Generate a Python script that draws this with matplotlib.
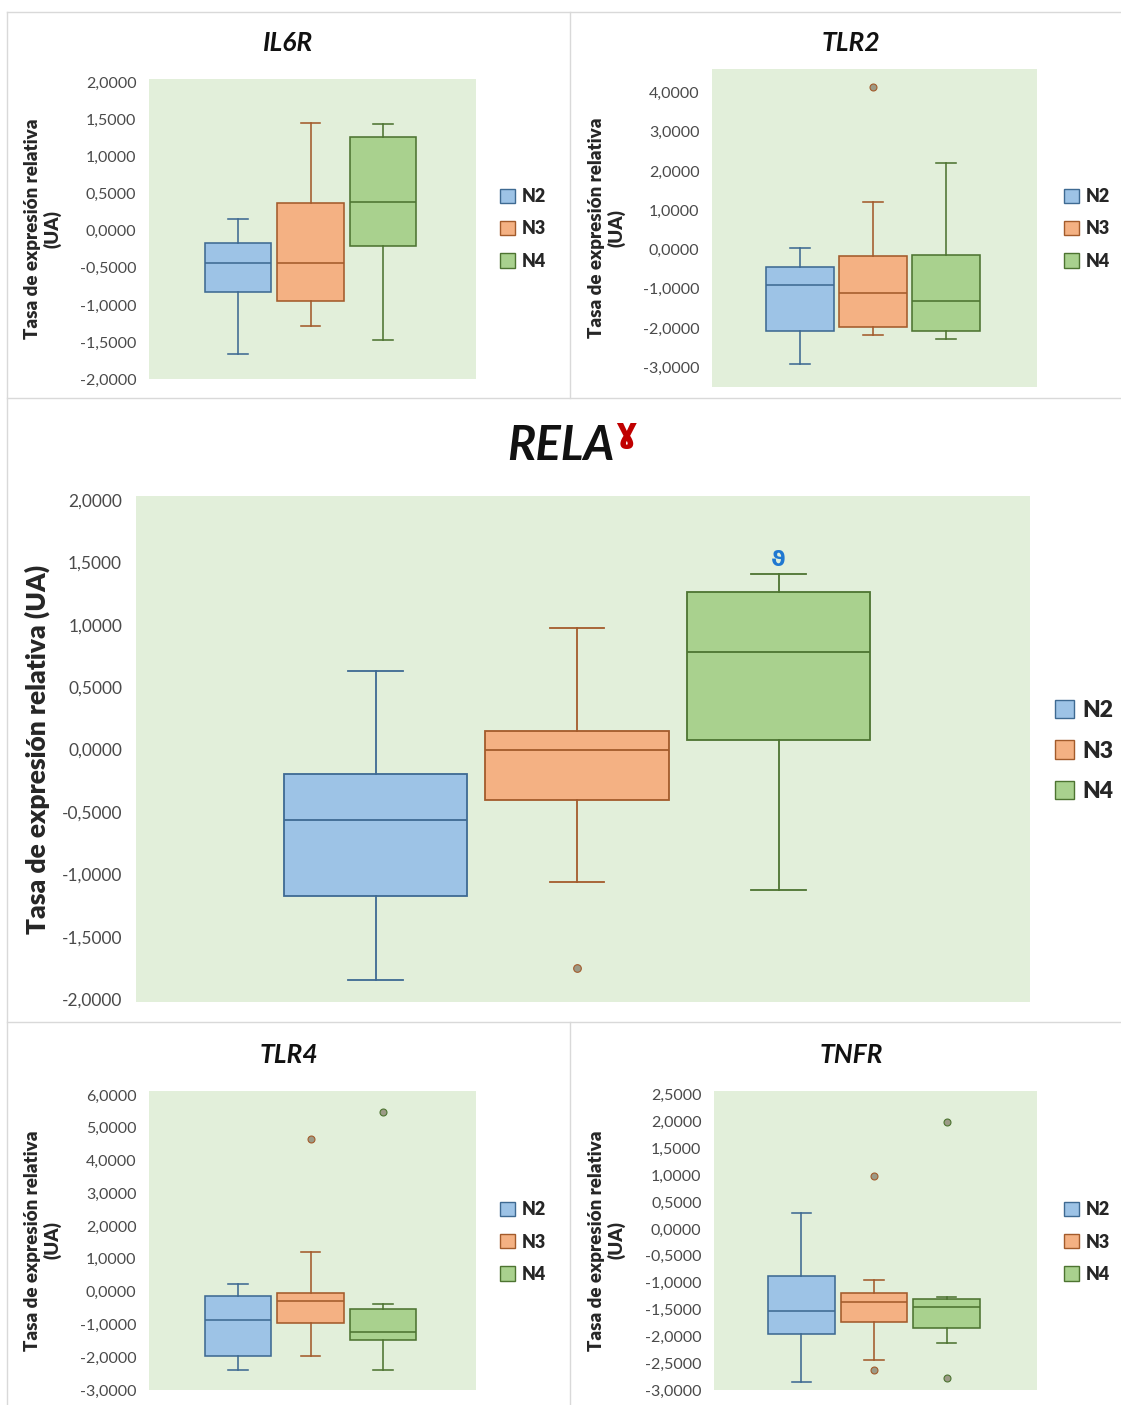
import matplotlib
matplotlib.use("Agg")
import matplotlib.pyplot as plt
from matplotlib.patches import Patch
from matplotlib.lines import Line2D
from matplotlib.ticker import FixedLocator, FuncFormatter
import numpy as np

plt.rcParams['font.family'] = ['Lato', 'DejaVu Sans']

# ---------------- data ----------------
groups = ["N2", "N3", "N4"]
genes = ["IL6R", "TLR2", "RELA", "TLR4", "TNFR"]

il6r_whislo = [-1.66, -1.28, -1.48]
il6r_q1     = [-0.83, -0.95, -0.21]
il6r_med    = [-0.44, -0.44, 0.385]
il6r_q3     = [-0.17, 0.38, 1.27]
il6r_whishi = [0.16, 1.46, 1.44]
il6r_fliers = [[], [], []]

tlr2_whislo = [-2.92, -2.17, -2.28]
tlr2_q1     = [-2.08, -1.96, -2.08]
tlr2_med    = [-0.90, -1.11, -1.30]
tlr2_q3     = [-0.44, -0.16, -0.13]
tlr2_whishi = [0.05, 1.20, 2.20]
tlr2_fliers = [[], [4.13], []]

rela_whislo = [-1.84, -1.056, -1.125]
rela_q1     = [-1.17, -0.403, 0.077]
rela_med    = [-0.562, -0.005, 0.782]
rela_q3     = [-0.198, 0.151, 1.262]
rela_whishi = [0.626, 0.974, 1.405]
rela_fliers = [[], [-1.75], []]

tlr4_whislo = [-2.39, -1.95, -2.39]
tlr4_q1     = [-1.95, -0.96, -1.47]
tlr4_med    = [-0.88, -0.28, -1.22]
tlr4_q3     = [-0.13, -0.03, -0.52]
tlr4_whishi = [0.23, 1.20, -0.37]
tlr4_fliers = [[], [4.65], [5.47]]

tnfr_whislo = [-2.85, -2.44, -2.13]
tnfr_q1     = [-1.95, -1.73, -1.85]
tnfr_med    = [-1.53, -1.36, -1.46]
tnfr_q3     = [-0.87, -1.20, -1.31]
tnfr_whishi = [0.29, -0.95, -1.27]
tnfr_fliers = [[], [0.98, -2.63], [2.00, -2.78]]

il6r_ticks = [-2.0, -1.5, -1.0, -0.5, 0.0, 0.5, 1.0, 1.5, 2.0]
tlr2_ticks = [-3, -2, -1, 0, 1, 2, 3, 4]
rela_ticks = [-2.0, -1.5, -1.0, -0.5, 0.0, 0.5, 1.0, 1.5, 2.0]
tlr4_ticks = [-3, -2, -1, 0, 1, 2, 3, 4, 5, 6]
tnfr_ticks = [-3.0, -2.5, -2.0, -1.5, -1.0, -0.5, 0.0, 0.5, 1.0, 1.5, 2.0, 2.5]

rela_mark_value = 1.52  # position of the significance sign above N4

# ---------------- style ----------------
fills = ["#9DC3E6", "#F4B183", "#A9D18E"]
edges = ["#3E6A92", "#A35B2B", "#4D7431"]
bg = "#E2EFDA"
tick_color = "#4A4A4A"

W, H = 1121, 1405
fig = plt.figure(figsize=(W / 100, H / 100), dpi=100)


def rect(l, t, r, b):
    return [l / W, 1 - b / H, (r - l) / W, (b - t) / H]


def fmt(v, pos):
    return ("%.4f" % v).replace(".", ",")


def make_stats(whislo, q1, med, q3, whishi, fliers):
    out = []
    for i in range(len(groups)):
        out.append(dict(whislo=whislo[i], q1=q1[i], med=med[i], q3=q3[i],
                        whishi=whishi[i], fliers=np.array(fliers[i]), label=groups[i]))
    return out


def draw_panel(box, stats, ylim, ticks, xlim, width, big=False):
    ax = fig.add_axes(rect(*box))
    ax.set_facecolor(bg)
    lw = 1.3 if big else 1.15
    res = ax.bxp(stats, positions=[1, 2, 3], widths=width, capwidths=0.27,
                 patch_artist=True, showfliers=True, manage_ticks=False)
    for i in range(3):
        res['boxes'][i].set_facecolor(fills[i])
        res['boxes'][i].set_edgecolor(edges[i])
        res['boxes'][i].set_linewidth(lw)
        res['medians'][i].set_color(edges[i])
        res['medians'][i].set_linewidth(lw)
        for k in (2 * i, 2 * i + 1):
            res['whiskers'][k].set_color(edges[i])
            res['whiskers'][k].set_linewidth(lw)
            res['caps'][k].set_color(edges[i])
            res['caps'][k].set_linewidth(lw)
        fl = res['fliers'][i]
        fl.set_marker('o')
        fl.set_markersize(5.5 if big else 5)
        fl.set_markerfacecolor('#9C9A86')
        fl.set_markeredgecolor(edges[i])
        fl.set_markeredgewidth(0.8)
    ax.set_xlim(*xlim)
    ax.set_ylim(*ylim)
    ax.yaxis.set_major_locator(FixedLocator(ticks))
    ax.yaxis.set_major_formatter(FuncFormatter(fmt))
    ax.set_xticks([])
    ax.tick_params(axis='y', length=0, pad=10 if big else 9,
                   labelsize=12.5 if big else 11.5, labelcolor=tick_color)
    for s in ax.spines.values():
        s.set_visible(False)
    return ax


def add_legend(ax, x, y, big=False):
    handles = [Patch(facecolor=fills[i], edgecolor=edges[i], linewidth=1.0) for i in range(3)]
    fs = 16.5 if big else 13
    leg = ax.legend(handles, groups, loc='center left',
                    bbox_to_anchor=(x / W, 1 - y / H), bbox_transform=fig.transFigure,
                    frameon=False, handlelength=0.85, handleheight=0.85,
                    handletextpad=0.35, labelspacing=0.85,
                    borderaxespad=0, borderpad=0,
                    prop=dict(size=fs, weight='heavy'))
    for t in leg.get_texts():
        t.set_color('#262626')
    return leg


ylabel_small = "Tasa de expresión relativa\n(UA)"
ylabel_big = "Tasa de expresión relativa (UA)"

# IL6R
ax1 = draw_panel((149, 79, 476, 379),
                 make_stats(il6r_whislo, il6r_q1, il6r_med, il6r_q3, il6r_whishi, il6r_fliers),
                 (-2.0, 2.05), il6r_ticks, (-0.228, 4.283), 0.92)
add_legend(ax1, 500, 229)

# TLR2
ax2 = draw_panel((712, 69, 1037, 387),
                 make_stats(tlr2_whislo, tlr2_q1, tlr2_med, tlr2_q3, tlr2_whishi, tlr2_fliers),
                 (-3.5, 4.6), tlr2_ticks, (-0.205, 4.247), 0.92)
add_legend(ax2, 1064, 229)

# RELA
ax3 = draw_panel((136, 496, 1030, 1002),
                 make_stats(rela_whislo, rela_q1, rela_med, rela_q3, rela_whishi, rela_fliers),
                 (-2.02, 2.03), rela_ticks, (-0.189, 4.248), 0.91, big=True)
add_legend(ax3, 1055, 751, big=True)
ax3.text(3, rela_mark_value, "ϑ", ha='center', va='center', color='#1F78D1',
         fontsize=16, fontweight='bold', family=['DejaVu Sans'])

# TLR4
ax4 = draw_panel((149, 1091, 476, 1390),
                 make_stats(tlr4_whislo, tlr4_q1, tlr4_med, tlr4_q3, tlr4_whishi, tlr4_fliers),
                 (-3.0, 6.12), tlr4_ticks, (-0.228, 4.283), 0.92)
add_legend(ax4, 500, 1242)

# TNFR
ax5 = draw_panel((714, 1091, 1037, 1390),
                 make_stats(tnfr_whislo, tnfr_q1, tnfr_med, tnfr_q3, tnfr_whishi, tnfr_fliers),
                 (-3.0, 2.57), tnfr_ticks, (-0.205, 4.247), 0.92)
add_legend(ax5, 1064, 1242)

# y labels
for ax, box in ((ax1, (149, 476)), (ax2, (712, 1037)), (ax4, (149, 476)), (ax5, (714, 1037))):
    l, r = box
    xc = 43 if l < 500 else 607
    ax.set_ylabel(ylabel_small, fontsize=13.5, fontweight='heavy', color='#262626',
                  va='center', ha='center', multialignment='center', linespacing=1.15)
    ax.yaxis.set_label_coords((xc - l) / (r - l), 0.5)
ax3.set_ylabel(ylabel_big, fontsize=19, fontweight='heavy', color='#262626', va='center')
ax3.yaxis.set_label_coords((37 - 136) / (1030 - 136), 0.5)

# titles
title_kw = dict(ha='center', va='center', fontweight='bold', style='italic', color='#111111')
fig.text(288 / W, 1 - 43 / H, genes[0], fontsize=19, **title_kw)
fig.text(851 / W, 1 - 43 / H, genes[1], fontsize=19, **title_kw)
fig.text(289 / W, 1 - 1055 / H, genes[3], fontsize=19, **title_kw)
fig.text(851 / W, 1 - 1055 / H, genes[4], fontsize=19, **title_kw)
fig.text(561 / W, 1 - 446 / H, genes[2], fontsize=34, **title_kw)
fig.text(615 / W, 1 - 433 / H, "ɣ", ha='left', va='center', fontsize=24, fontweight='bold',
         color='#C00000', family=['DejaVu Sans'])

# panel separator lines
sep = dict(transform=fig.transFigure, color='#D9D9D9', linewidth=1.0)
def hline(y, x0, x1):
    fig.add_artist(Line2D([x0 / W, x1 / W], [1 - y / H, 1 - y / H], **sep))
def vline(x, y0, y1):
    fig.add_artist(Line2D([x / W, x / W], [1 - y0 / H, 1 - y1 / H], **sep))

hline(12, 7, W)
hline(398, 7, W)
hline(1022, 7, W)
vline(7, 12, H)
vline(570, 12, 398)
vline(570, 1022, H)

fig.savefig("out.png", dpi=100, facecolor='white')
